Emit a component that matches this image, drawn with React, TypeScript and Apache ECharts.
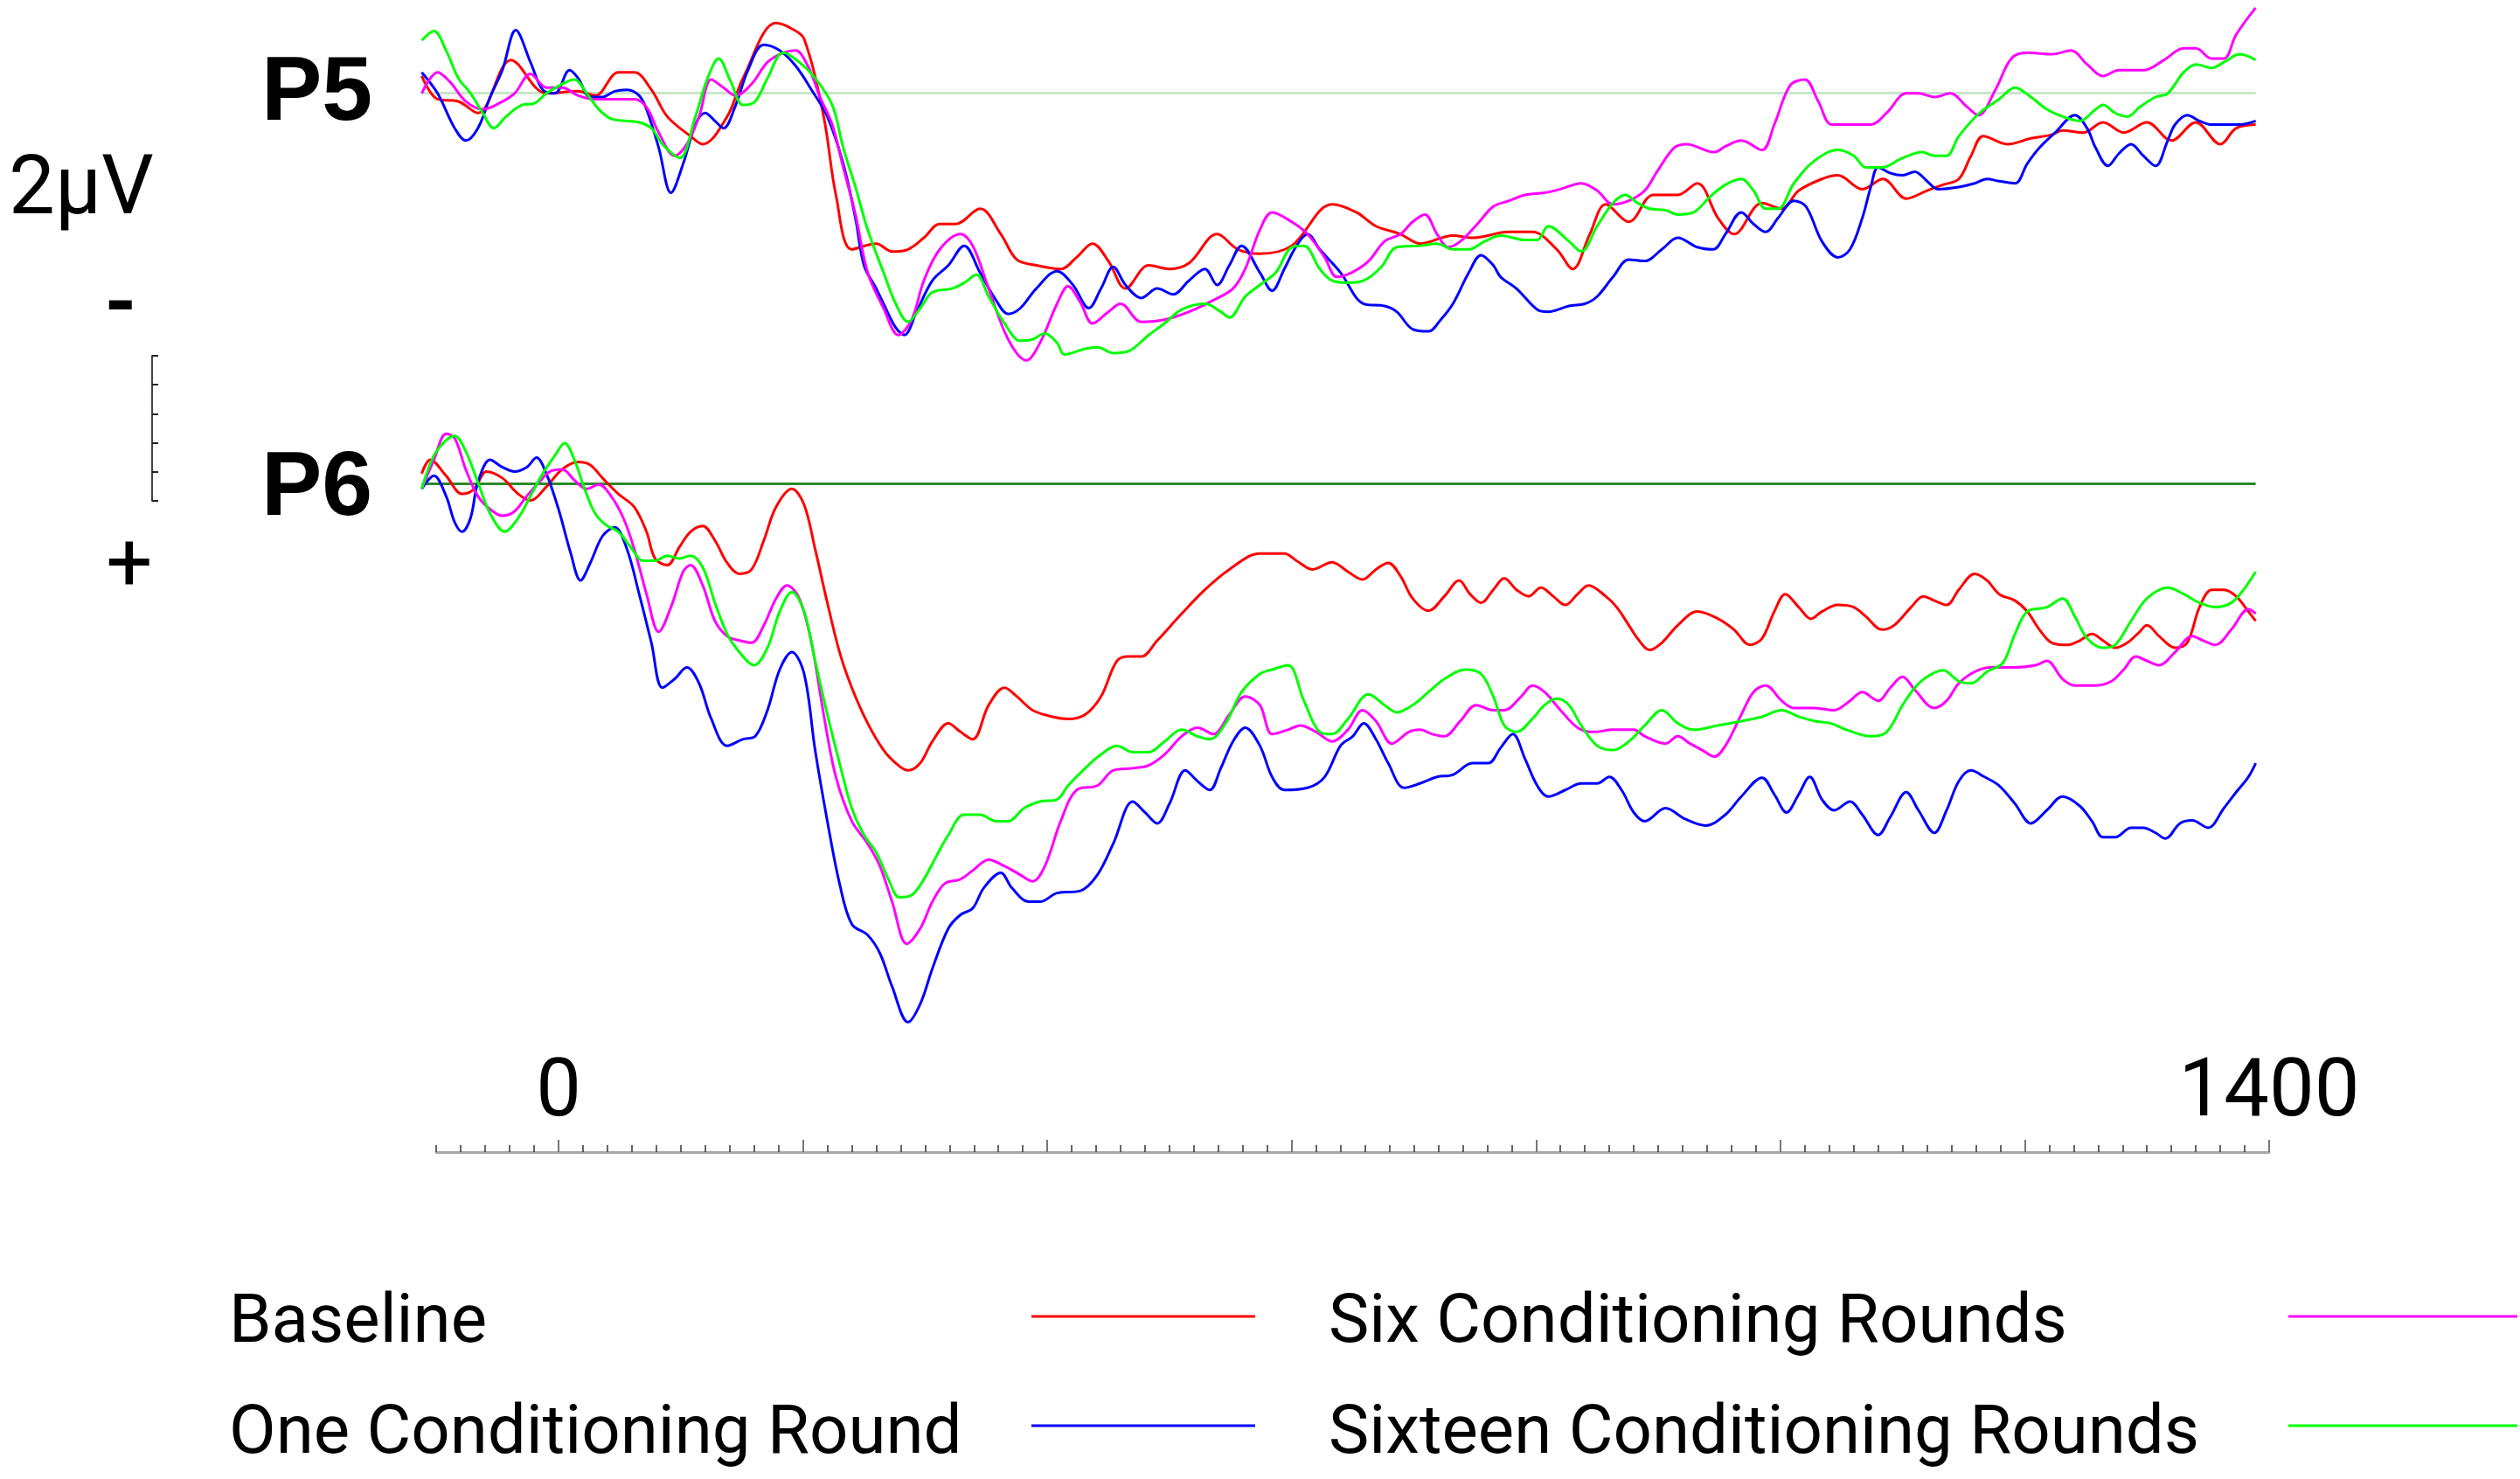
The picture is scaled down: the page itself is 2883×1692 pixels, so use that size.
import React, { useEffect, useRef } from 'react';
import * as echarts from 'echarts';

// ---------- names & colours ----------
const seriesNames = ['Baseline', 'One Conditioning Round', 'Six Conditioning Rounds', 'Sixteen Conditioning Rounds'];
const seriesColors = ['#ff0000', '#0000ff', '#ff00ff', '#00ff00'];
const channelNames = ['P5', 'P6'];

// ---------- axis ticks ----------
const rulerLabels = [0, 1400];
const rulerMajor = [0, 200, 400, 600, 800, 1000, 1200, 1400];
const rulerMinor: number[] = [];
for (let t = -100; t <= 1400; t += 20) rulerMinor.push(t);
const scaleBarMax = 2; // µV
const scaleBarStep = 0.4;

// ---------- data [ms, µV] (positive plotted downward) ----------
const p5Baseline = [
  [-112, -0.23], [-99, 0.09], [-82, 0.12], [-66, 0.28], [-39, -0.45], [-10, 0.01], [16, -0.02], [30, 0.04], [49, -0.28], [62, -0.28],
  [76, -0.04], [89, 0.33], [108, 0.6], [118, 0.71], [138, 0.33], [151, -0.2], [178, -0.96], [191, -0.88], [201, -0.74], [217, 0.33],
  [227, 1.41], [240, 2.16], [260, 2.08], [273, 2.19], [286, 2.16], [299, 2.0], [312, 1.81], [325, 1.81], [345, 1.6], [362, 1.95],
  [375, 2.3], [391, 2.38], [411, 2.43], [424, 2.27], [437, 2.08], [450, 2.32], [464, 2.7], [483, 2.38], [500, 2.43], [516, 2.35],
  [539, 1.95], [556, 2.16], [574, 2.22], [600, 2.11], [633, 1.54], [653, 1.65], [669, 1.84], [689, 1.95], [705, 2.08], [732, 1.97],
  [748, 2.0], [778, 1.92], [797, 1.92], [817, 2.16], [830, 2.43], [844, 1.95], [857, 1.54], [876, 1.78], [896, 1.41], [916, 1.41],
  [932, 1.25], [949, 1.73], [962, 1.95], [985, 1.52], [1001, 1.6], [1015, 1.35], [1034, 1.19], [1047, 1.14], [1067, 1.33], [1084, 1.19],
  [1103, 1.46], [1120, 1.35], [1133, 1.27], [1146, 1.19], [1156, 0.87], [1166, 0.6], [1186, 0.71], [1205, 0.63], [1222, 0.58], [1231, 0.52],
  [1248, 0.55], [1264, 0.41], [1281, 0.55], [1300, 0.41], [1320, 0.66], [1340, 0.41], [1360, 0.71], [1373, 0.49], [1389, 0.44],
];
const p5One = [
  [-112, -0.28], [-99, 0.01], [-85, 0.49], [-76, 0.66], [-66, 0.49], [-56, 0.06], [-46, -0.31], [-35, -0.86], [-23, -0.42], [-13, -0.04],
  [-3, 0.01], [9, -0.31], [16, -0.2], [26, 0.06], [36, 0.06], [46, -0.02], [56, -0.04], [66, 0.04], [72, 0.23], [82, 0.76],
  [92, 1.38], [102, 0.98], [112, 0.44], [120, 0.28], [128, 0.39], [135, 0.49], [145, 0.17], [155, -0.31], [168, -0.66], [181, -0.58],
  [194, -0.37], [207, -0.04], [220, 0.33], [233, 0.98], [243, 1.73], [250, 2.38], [260, 2.7], [266, 2.91], [276, 3.24], [283, 3.34],
  [293, 3.02], [306, 2.59], [319, 2.38], [332, 2.11], [345, 2.48], [358, 2.86], [368, 3.05], [378, 2.97], [391, 2.7], [408, 2.46],
  [421, 2.65], [434, 2.97], [444, 2.7], [454, 2.4], [464, 2.65], [477, 2.83], [490, 2.7], [503, 2.78], [516, 2.59], [529, 2.43],
  [539, 2.65], [549, 2.38], [559, 2.11], [574, 2.48], [584, 2.73], [594, 2.43], [604, 2.11], [613, 1.95], [623, 2.16], [640, 2.48],
  [659, 2.91], [676, 2.94], [686, 3.02], [699, 3.26], [712, 3.29], [722, 3.13], [732, 2.91], [745, 2.48], [755, 2.24], [765, 2.38],
  [771, 2.54], [784, 2.7], [801, 2.99], [810, 3.02], [827, 2.94], [840, 2.91], [850, 2.81], [863, 2.54], [876, 2.3], [889, 2.32],
  [903, 2.16], [916, 2.0], [932, 2.13], [945, 2.16], [955, 1.95], [968, 1.65], [978, 1.81], [988, 1.92], [998, 1.73], [1011, 1.49],
  [1021, 1.57], [1034, 2.05], [1047, 2.27], [1057, 2.16], [1067, 1.73], [1074, 1.3], [1080, 1.03], [1090, 1.11], [1100, 1.14], [1110, 1.09],
  [1120, 1.22], [1129, 1.33], [1146, 1.3], [1159, 1.25], [1169, 1.19], [1179, 1.22], [1192, 1.25], [1202, 0.98], [1212, 0.76], [1225, 0.55],
  [1241, 0.31], [1251, 0.49], [1258, 0.76], [1268, 1.01], [1277, 0.84], [1287, 0.71], [1297, 0.87], [1307, 1.01], [1317, 0.66], [1323, 0.44],
  [1333, 0.31], [1343, 0.39], [1353, 0.44], [1363, 0.44], [1376, 0.44], [1389, 0.39],
];
const p5Six = [
  [-112, 0.01], [-99, -0.28], [-89, -0.15], [-76, 0.12], [-62, 0.23], [-49, 0.15], [-36, 0.01], [-23, -0.26], [-10, -0.07], [3, -0.07],
  [16, 0.04], [30, 0.09], [43, 0.09], [62, 0.09], [72, 0.2], [82, 0.55], [95, 0.87], [105, 0.71], [115, 0.33], [125, -0.18],
  [135, -0.07], [145, 0.04], [158, -0.12], [171, -0.42], [184, -0.55], [194, -0.58], [204, -0.37], [214, 0.06], [224, 0.44], [233, 1.03],
  [243, 1.68], [253, 2.48], [266, 2.97], [278, 3.34], [289, 3.13], [299, 2.59], [312, 2.16], [329, 1.95], [339, 2.11], [352, 2.7],
  [368, 3.4], [383, 3.69], [394, 3.45], [408, 2.91], [417, 2.67], [427, 2.89], [437, 3.18], [450, 3.02], [460, 2.91], [477, 3.16],
  [496, 3.13], [516, 3.02], [536, 2.86], [552, 2.7], [562, 2.43], [574, 1.89], [584, 1.65], [600, 1.78], [613, 1.95], [627, 2.27],
  [637, 2.54], [649, 2.48], [663, 2.32], [676, 2.05], [689, 1.95], [699, 1.78], [709, 1.68], [719, 1.95], [728, 2.13], [738, 2.05],
  [752, 1.81], [765, 1.57], [778, 1.49], [791, 1.41], [807, 1.38], [820, 1.33], [837, 1.25], [850, 1.35], [863, 1.54], [876, 1.49],
  [889, 1.35], [899, 1.09], [913, 0.76], [923, 0.71], [946, 0.82], [955, 0.74], [968, 0.66], [985, 0.79], [995, 0.44], [1008, -0.1],
  [1020, -0.18], [1031, 0.12], [1042, 0.44], [1057, 0.44], [1074, 0.44], [1087, 0.28], [1103, 0.01], [1113, 0.01], [1126, 0.06], [1139, 0.01],
  [1153, 0.2], [1162, 0.31], [1176, -0.04], [1189, -0.47], [1202, -0.55], [1222, -0.53], [1238, -0.58], [1251, -0.39], [1264, -0.23], [1277, -0.31],
  [1297, -0.31], [1314, -0.45], [1330, -0.61], [1340, -0.61], [1353, -0.47], [1363, -0.47], [1373, -0.8], [1389, -1.17],
];
const p5Sixteen = [
  [-112, -0.72], [-102, -0.85], [-92, -0.58], [-82, -0.2], [-72, 0.01], [-62, 0.28], [-53, 0.49], [-43, 0.33], [-30, 0.17], [-20, 0.15],
  [-10, 0.01], [3, -0.12], [13, -0.18], [23, 0.01], [33, 0.23], [43, 0.36], [56, 0.39], [66, 0.41], [76, 0.49], [85, 0.71],
  [99, 0.9], [112, 0.33], [122, -0.2], [131, -0.47], [141, -0.15], [151, 0.17], [161, 0.12], [171, -0.2], [184, -0.55], [197, -0.42],
  [210, -0.2], [224, 0.17], [233, 0.76], [243, 1.3], [253, 1.89], [266, 2.48], [276, 2.91], [286, 3.16], [296, 2.97], [306, 2.75],
  [322, 2.7], [332, 2.62], [342, 2.51], [352, 2.81], [365, 3.18], [378, 3.42], [388, 3.4], [398, 3.32], [408, 3.45], [414, 3.61],
  [431, 3.53], [441, 3.51], [454, 3.59], [467, 3.56], [483, 3.34], [496, 3.18], [510, 2.99], [529, 2.91], [542, 3.02], [549, 3.1],
  [562, 2.81], [574, 2.65], [587, 2.48], [600, 2.13], [610, 2.11], [623, 2.43], [633, 2.59], [646, 2.62], [659, 2.59], [673, 2.41],
  [686, 2.13], [705, 2.11], [719, 2.08], [732, 2.16], [745, 2.16], [758, 2.05], [771, 1.97], [791, 2.03], [801, 2.03], [810, 1.84],
  [827, 2.05], [837, 2.19], [850, 1.84], [863, 1.52], [873, 1.41], [883, 1.52], [893, 1.6], [906, 1.62], [916, 1.68], [929, 1.65],
  [942, 1.44], [955, 1.27], [968, 1.19], [978, 1.35], [988, 1.6], [998, 1.6], [1011, 1.25], [1027, 0.95], [1047, 0.79], [1060, 0.87],
  [1070, 1.03], [1083, 1.03], [1100, 0.9], [1116, 0.82], [1126, 0.87], [1136, 0.87], [1146, 0.6], [1163, 0.28], [1179, 0.09], [1192, -0.07],
  [1205, 0.06], [1218, 0.23], [1231, 0.33], [1245, 0.39], [1258, 0.23], [1264, 0.17], [1274, 0.28], [1284, 0.33], [1294, 0.2], [1307, 0.06],
  [1317, 0.01], [1330, -0.28], [1340, -0.39], [1353, -0.34], [1363, -0.42], [1376, -0.53], [1389, -0.45],
];
const p6Baseline = [
  [-112, -0.14], [-105, -0.33], [-92, -0.11], [-79, 0.14], [-69, 0.07], [-59, -0.17], [-46, -0.08], [-33, 0.14], [-23, 0.23], [-10, 0.04],
  [3, -0.2], [16, -0.3], [26, -0.26], [36, -0.08], [49, 0.14], [62, 0.32], [72, 0.66], [79, 1.03], [89, 1.12], [99, 0.87],
  [108, 0.66], [118, 0.58], [128, 0.78], [138, 1.09], [148, 1.24], [158, 1.18], [168, 0.78], [178, 0.32], [191, 0.07], [201, 0.29],
  [210, 0.9], [220, 1.64], [230, 2.32], [240, 2.81], [253, 3.3], [266, 3.67], [276, 3.85], [286, 3.95], [296, 3.85], [306, 3.55],
  [319, 3.3], [329, 3.42], [339, 3.52], [352, 3.05], [365, 2.81], [375, 2.93], [388, 3.12], [404, 3.21], [417, 3.24], [431, 3.18],
  [444, 2.93], [457, 2.44], [467, 2.38], [477, 2.38], [490, 2.16], [510, 1.79], [529, 1.46], [549, 1.18], [574, 0.96], [594, 0.96],
  [604, 1.06], [617, 1.18], [633, 1.08], [646, 1.21], [658, 1.32], [669, 1.18], [679, 1.09], [689, 1.27], [699, 1.58], [712, 1.75],
  [725, 1.55], [737, 1.33], [746, 1.52], [755, 1.64], [765, 1.46], [774, 1.3], [784, 1.46], [794, 1.55], [804, 1.43], [814, 1.55],
  [824, 1.67], [834, 1.52], [843, 1.4], [857, 1.55], [866, 1.7], [876, 1.95], [883, 2.13], [893, 2.29], [903, 2.19], [916, 1.95],
  [932, 1.76], [949, 1.86], [962, 2.01], [975, 2.22], [985, 2.13], [995, 1.76], [1004, 1.52], [1015, 1.7], [1025, 1.86], [1034, 1.76],
  [1047, 1.67], [1060, 1.7], [1070, 1.83], [1083, 2.01], [1093, 1.95], [1107, 1.7], [1117, 1.55], [1126, 1.61], [1136, 1.67], [1146, 1.46],
  [1159, 1.24], [1169, 1.33], [1179, 1.52], [1192, 1.61], [1202, 1.76], [1212, 2.01], [1222, 2.19], [1235, 2.22], [1245, 2.16], [1255, 2.07],
  [1264, 2.16], [1274, 2.26], [1284, 2.19], [1294, 2.04], [1300, 1.95], [1310, 2.1], [1323, 2.26], [1333, 2.19], [1343, 1.7], [1353, 1.46],
  [1363, 1.46], [1373, 1.55], [1383, 1.76], [1389, 1.89],
];
const p6One = [
  [-112, 0.07], [-102, -0.11], [-92, 0.17], [-85, 0.53], [-79, 0.66], [-72, 0.47], [-66, -0.02], [-56, -0.33], [-46, -0.23], [-36, -0.17],
  [-26, -0.23], [-18, -0.36], [-10, -0.14], [0, 0.35], [10, 0.96], [18, 1.33], [26, 1.09], [36, 0.72], [46, 0.6], [56, 0.9],
  [66, 1.52], [76, 2.19], [85, 2.81], [95, 2.69], [105, 2.53], [115, 2.75], [125, 3.24], [138, 3.61], [151, 3.52], [161, 3.48],
  [171, 3.12], [181, 2.56], [191, 2.32], [201, 2.62], [210, 3.67], [220, 4.65], [230, 5.51], [240, 6.07], [253, 6.22], [263, 6.47],
  [273, 6.93], [286, 7.42], [296, 7.17], [306, 6.68], [319, 6.13], [329, 5.94], [339, 5.85], [348, 5.57], [362, 5.36], [371, 5.57],
  [385, 5.76], [394, 5.76], [408, 5.64], [427, 5.61], [441, 5.39], [454, 4.96], [470, 4.38], [480, 4.53], [490, 4.68], [500, 4.41],
  [513, 3.95], [523, 4.1], [533, 4.22], [542, 3.92], [552, 3.55], [562, 3.36], [574, 3.61], [584, 4.04], [594, 4.22], [613, 4.19],
  [627, 4.04], [640, 3.61], [650, 3.48], [659, 3.3], [669, 3.52], [679, 3.85], [692, 4.19], [705, 4.13], [719, 4.04], [732, 4.01],
  [748, 3.85], [761, 3.85], [771, 3.64], [781, 3.45], [791, 3.79], [801, 4.16], [810, 4.31], [824, 4.22], [837, 4.13], [850, 4.13],
  [860, 4.04], [870, 4.22], [880, 4.53], [889, 4.65], [906, 4.47], [922, 4.62], [939, 4.71], [955, 4.56], [968, 4.31], [985, 4.05],
  [995, 4.28], [1005, 4.53], [1015, 4.28], [1024, 4.04], [1034, 4.35], [1044, 4.5], [1057, 4.38], [1067, 4.56], [1080, 4.84], [1090, 4.59],
  [1103, 4.25], [1113, 4.5], [1126, 4.81], [1136, 4.5], [1146, 4.1], [1156, 3.95], [1166, 4.03], [1179, 4.16], [1192, 4.41], [1205, 4.68],
  [1218, 4.5], [1231, 4.31], [1245, 4.44], [1255, 4.65], [1264, 4.87], [1274, 4.87], [1287, 4.74], [1297, 4.74], [1307, 4.81], [1315, 4.89],
  [1327, 4.68], [1337, 4.64], [1350, 4.74], [1363, 4.47], [1373, 4.25], [1383, 4.04], [1389, 3.85],
];
const p6Six = [
  [-112, 0.07], [-102, -0.33], [-92, -0.69], [-85, -0.63], [-76, -0.2], [-66, 0.17], [-56, 0.35], [-46, 0.44], [-36, 0.38], [-26, 0.17],
  [-16, -0.02], [-7, -0.17], [3, -0.2], [13, -0.05], [23, 0.07], [33, 0.01], [43, 0.17], [53, 0.47], [62, 0.9], [72, 1.52],
  [82, 2.04], [92, 1.7], [102, 1.21], [108, 1.12], [118, 1.4], [128, 1.89], [138, 2.1], [148, 2.16], [158, 2.19], [168, 1.95],
  [178, 1.58], [187, 1.4], [197, 1.58], [207, 2.19], [217, 3.18], [227, 4.04], [240, 4.65], [253, 4.96], [263, 5.27], [273, 5.76],
  [285, 6.34], [296, 6.13], [306, 5.76], [316, 5.51], [329, 5.45], [339, 5.33], [352, 5.18], [365, 5.27], [378, 5.39], [388, 5.48],
  [398, 5.27], [411, 4.65], [424, 4.22], [441, 4.16], [454, 3.95], [470, 3.92], [483, 3.88], [496, 3.73], [510, 3.48], [523, 3.36],
  [536, 3.45], [549, 3.18], [562, 2.93], [574, 3.05], [584, 3.45], [597, 3.39], [607, 3.33], [620, 3.42], [633, 3.55], [646, 3.39],
  [658, 3.12], [669, 3.27], [682, 3.58], [696, 3.42], [705, 3.39], [715, 3.45], [725, 3.48], [738, 3.27], [751, 3.05], [765, 3.12],
  [774, 3.12], [788, 2.93], [797, 2.78], [807, 2.87], [820, 3.12], [834, 3.36], [847, 3.42], [863, 3.39], [880, 3.39], [889, 3.48],
  [906, 3.58], [916, 3.48], [926, 3.58], [936, 3.67], [946, 3.76], [955, 3.61], [968, 3.18], [978, 2.87], [988, 2.78], [1001, 2.99],
  [1011, 3.09], [1027, 3.09], [1044, 3.12], [1057, 2.99], [1067, 2.87], [1080, 2.99], [1090, 2.81], [1100, 2.66], [1110, 2.84], [1126, 3.09],
  [1136, 2.99], [1146, 2.75], [1159, 2.59], [1172, 2.53], [1192, 2.53], [1209, 2.5], [1218, 2.44], [1231, 2.69], [1241, 2.78], [1258, 2.78],
  [1271, 2.72], [1281, 2.56], [1291, 2.38], [1300, 2.44], [1310, 2.5], [1323, 2.32], [1337, 2.1], [1346, 2.16], [1356, 2.22], [1369, 2.01],
  [1383, 1.73], [1389, 1.79],
];
const p6Sixteen = [
  [-112, 0.07], [-102, -0.39], [-92, -0.6], [-85, -0.66], [-76, -0.45], [-66, -0.02], [-56, 0.41], [-44, 0.66], [-33, 0.47], [-23, 0.17],
  [-13, -0.14], [-3, -0.39], [5, -0.56], [13, -0.33], [22, 0.1], [30, 0.41], [39, 0.57], [49, 0.66], [59, 0.87], [69, 1.06],
  [79, 1.06], [89, 0.99], [99, 1.03], [108, 0.99], [118, 1.15], [128, 1.64], [138, 2.07], [148, 2.32], [160, 2.5], [171, 2.26],
  [181, 1.76], [191, 1.49], [201, 1.76], [210, 2.44], [220, 3.18], [230, 3.85], [240, 4.47], [250, 4.84], [260, 5.08], [270, 5.45],
  [279, 5.7], [289, 5.67], [299, 5.45], [309, 5.14], [319, 4.84], [332, 4.56], [345, 4.56], [358, 4.65], [368, 4.65], [381, 4.47],
  [394, 4.38], [408, 4.35], [417, 4.16], [431, 3.92], [444, 3.73], [457, 3.61], [470, 3.7], [483, 3.7], [496, 3.55], [510, 3.39],
  [523, 3.48], [533, 3.52], [546, 3.3], [559, 2.87], [574, 2.62], [584, 2.56], [597, 2.5], [610, 2.99], [623, 3.42], [633, 3.45],
  [646, 3.24], [663, 2.9], [676, 3.05], [686, 3.15], [699, 3.05], [712, 2.87], [725, 2.69], [742, 2.56], [755, 2.62], [765, 2.93],
  [774, 3.33], [784, 3.42], [797, 3.24], [807, 3.05], [817, 2.96], [827, 3.05], [837, 3.33], [850, 3.61], [863, 3.67], [876, 3.55],
  [889, 3.33], [903, 3.12], [916, 3.3], [929, 3.39], [949, 3.33], [968, 3.27], [985, 3.21], [1001, 3.12], [1015, 3.21], [1028, 3.27],
  [1041, 3.3], [1054, 3.39], [1074, 3.48], [1087, 3.42], [1100, 3.05], [1110, 2.81], [1120, 2.66], [1133, 2.57], [1146, 2.72], [1156, 2.75],
  [1169, 2.59], [1182, 2.47], [1192, 2.07], [1202, 1.76], [1218, 1.7], [1231, 1.58], [1241, 1.83], [1251, 2.13], [1264, 2.26], [1274, 2.22],
  [1287, 1.89], [1300, 1.58], [1317, 1.43], [1330, 1.52], [1343, 1.64], [1356, 1.7], [1369, 1.64], [1379, 1.46], [1389, 1.21],
];
const epoch = [-112, 1389];

const p5Data = [p5Baseline, p5One, p5Six, p5Sixteen];
const p6Data = [p6Baseline, p6One, p6Six, p6Sixteen];

// ---------- layout ----------
const W = 2883;
const H = 1692;
const PX_PER_MS = (2596 - 639) / 1400;
const PX_PER_UV = 83;
const ZERO_X = 639;
const X_MIN = -120;
const X_MAX = 1400;
const P5_ZERO_Y = 106;
const P6_ZERO_Y = 553.5;
const P5_RANGE = [-1.25, 4];
const P6_RANGE = [-1, 8];
const TEXT_FONT = 'Roboto, "Open Sans", sans-serif';

function buildOption() {
  const dataLeft = ZERO_X + X_MIN * PX_PER_MS;
  const dataWidth = (X_MAX - X_MIN) * PX_PER_MS;
  const rulerLeft = ZERO_X - 100 * PX_PER_MS;
  const rulerWidth = 1500 * PX_PER_MS;

  const grids = [
    { left: dataLeft, width: dataWidth, top: P5_ZERO_Y + P5_RANGE[0] * PX_PER_UV, height: (P5_RANGE[1] - P5_RANGE[0]) * PX_PER_UV },
    { left: dataLeft, width: dataWidth, top: P6_ZERO_Y + P6_RANGE[0] * PX_PER_UV, height: (P6_RANGE[1] - P6_RANGE[0]) * PX_PER_UV },
    { left: rulerLeft, width: rulerWidth, top: 1200, height: 118 },
    { left: 174, width: 1, top: 407, height: scaleBarMax * PX_PER_UV },
  ];

  const hiddenX = (gi: number) => ({ type: 'value', gridIndex: gi, min: X_MIN, max: X_MAX, show: false });
  const xAxes: any[] = [
    hiddenX(0),
    hiddenX(1),
    {
      type: 'value', gridIndex: 2, min: -100, max: 1400, position: 'bottom',
      axisLine: { show: true, lineStyle: { color: '#a8a8a8', width: 3 } },
      axisTick: { show: true, inside: true, length: 8, customValues: rulerMinor, lineStyle: { color: '#333', width: 1.5 } },
      axisLabel: { show: false },
      splitLine: { show: false },
    },
    {
      type: 'value', gridIndex: 2, min: -100, max: 1400, position: 'bottom',
      axisLine: { show: false },
      axisTick: { show: true, inside: true, length: 14, customValues: rulerMajor, lineStyle: { color: '#777', width: 2 } },
      axisLabel: {
        show: true, inside: true, margin: 28, customValues: rulerLabels,
        formatter: (v: number) => String(v),
        fontFamily: TEXT_FONT, fontSize: 92, color: '#000',
      },
      splitLine: { show: false },
    },
    { type: 'value', gridIndex: 3, min: 0, max: 1, show: false },
  ];
  const yAxes: any[] = [
    { type: 'value', gridIndex: 0, min: P5_RANGE[0], max: P5_RANGE[1], inverse: true, show: false },
    { type: 'value', gridIndex: 1, min: P6_RANGE[0], max: P6_RANGE[1], inverse: true, show: false },
    { type: 'value', gridIndex: 2, min: 0, max: 1, show: false },
    {
      type: 'value', gridIndex: 3, min: 0, max: scaleBarMax, interval: scaleBarStep, position: 'left',
      axisLine: { show: true, lineStyle: { color: '#444', width: 2 } },
      axisTick: { show: true, inside: true, length: 7, lineStyle: { color: '#222', width: 2 } },
      axisLabel: { show: false },
      splitLine: { show: false },
    },
  ];

  const series: any[] = [];
  const baselineColors = ['#c9e6c9', '#2a8a2a'];
  [p5Data, p6Data].forEach((chData, gi) => {
    chData.forEach((d, si) => {
      series.push({
        type: 'line',
        name: `${channelNames[gi]} ${seriesNames[si]}`,
        xAxisIndex: gi,
        yAxisIndex: gi,
        data: d,
        showSymbol: false,
        smooth: 0.35,
        lineStyle: { color: seriesColors[si], width: 3 },
        z: 3,
        markLine: si === 0 ? {
          silent: true,
          symbol: 'none',
          label: { show: false },
          lineStyle: { color: baselineColors[gi], width: 3, type: 'solid' },
          data: [[{ coord: [epoch[0], 0] }, { coord: [epoch[1], 0] }]],
          z: 1,
        } : undefined,
      });
    });
  });

  // legend drawn as text + sample line
  const legendCols = [
    { textX: 262, lineX1: 1180, lineX2: 1436 },
    { textX: 1520, lineX1: 2618, lineX2: 2880 },
  ];
  const legendRows = [1508, 1635];
  const legendLineRows = [1506, 1631];
  const legendOrder = [0, 2, 1, 3]; // row-major: Baseline, Six, One, Sixteen
  const graphic: any[] = [];
  legendOrder.forEach((si, k) => {
    const row = Math.floor(k / 2);
    const col = k % 2;
    graphic.push({
      type: 'text', x: legendCols[col].textX, y: legendRows[row],
      style: { text: seriesNames[si], fontFamily: TEXT_FONT, fontSize: 78, fill: '#000', verticalAlign: 'middle' },
    });
    graphic.push({
      type: 'line',
      shape: { x1: legendCols[col].lineX1, y1: legendLineRows[row], x2: legendCols[col].lineX2, y2: legendLineRows[row] },
      style: { stroke: seriesColors[si], lineWidth: 3 },
    });
  });
  // channel labels
  [P5_ZERO_Y - 5, P6_ZERO_Y - 1].forEach((cy, i) => {
    graphic.push({
      type: 'text', x: 299, y: cy,
      style: { text: channelNames[i], fontFamily: '"Liberation Sans", Arial, sans-serif', fontWeight: 'bold', fontSize: 104, fill: '#000', verticalAlign: 'middle' },
    });
  });
  // scale labels
  graphic.push({ type: 'text', x: 10, y: 212, style: { text: '2μV', fontFamily: TEXT_FONT, fontSize: 94, fill: '#000', verticalAlign: 'middle' } });
  graphic.push({ type: 'text', x: 138, y: 346, style: { text: '-', fontFamily: TEXT_FONT, fontSize: 94, fontWeight: 'bold', fill: '#000', align: 'center', verticalAlign: 'middle' } });
  graphic.push({ type: 'text', x: 148, y: 643, style: { text: '+', fontFamily: TEXT_FONT, fontSize: 94, fill: '#000', align: 'center', verticalAlign: 'middle' } });

  return {
    animation: false,
    backgroundColor: '#ffffff',
    grid: grids,
    xAxis: xAxes,
    yAxis: yAxes,
    series,
    graphic,
  };
}

export default function App() {
  const ref = useRef<HTMLDivElement>(null);
  useEffect(() => {
    if (!ref.current) return;
    const chart = echarts.init(ref.current, null, { renderer: 'svg' });
    chart.setOption(buildOption() as any);
    return () => chart.dispose();
  }, []);
  return <div ref={ref} style={{ position: 'absolute', left: 0, top: 0, width: W, height: H, background: '#fff' }} />;
}
